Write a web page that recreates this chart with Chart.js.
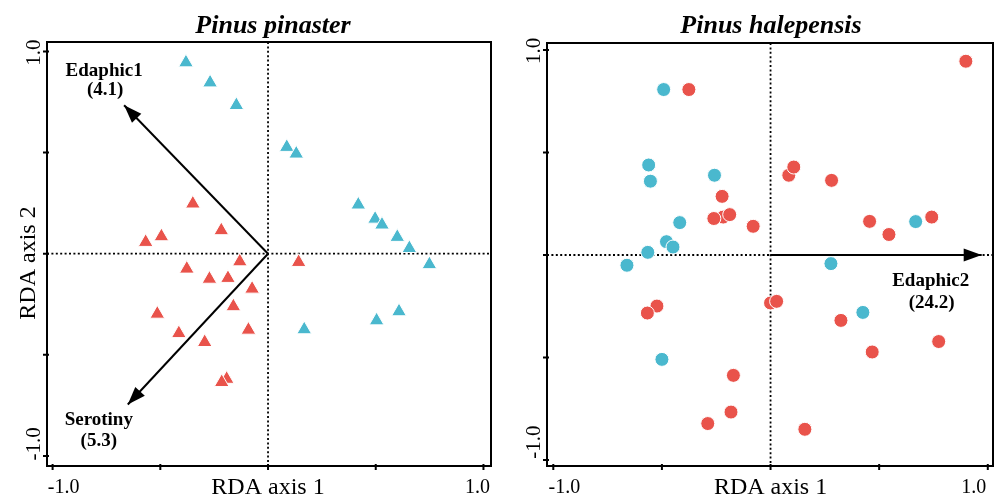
<!DOCTYPE html>
<html>
<head>
<meta charset="utf-8">
<script src="https://cdn.jsdelivr.net/npm/chart.js@4/dist/chart.umd.min.js"></script>
<style>
    html, body { margin: 0; padding: 0; background: #fff; overflow: hidden; }
    #wrap { position: relative; width: 994px; height: 496px; overflow: hidden; }
    .panel { position: absolute; top: 0; width: 497px; height: 496px; }
    canvas { display: block; }
</style>
</head>
<body>
<div id="wrap">
    <div class="panel" style="left:0"><canvas id="left" width="497" height="496"></canvas></div>
    <div class="panel" style="left:497px"><canvas id="right" width="497" height="496"></canvas></div>
</div>
<script>
// RDA biplots, site scores

const axisTicks = [-1.0, -0.5, 0, 0.5, 1.0];
const axisTickLabels = ['-1.0', '', '', '', '1.0'];
const xAxisTitle = 'RDA axis 1';
const yAxisTitle = 'RDA axis 2';

// Pinus pinaster (triangles)
const pinasterBlue = [
    [-0.381, 0.945], [-0.269, 0.846], [-0.147, 0.734], [0.087, 0.527], [0.131, 0.494],
    [0.419, 0.242], [0.497, 0.172], [0.529, 0.143], [0.600, 0.082], [0.656, 0.027],
    [0.749, -0.053], [0.608, -0.286], [0.504, -0.331], [0.168, -0.375]
];
const pinasterRed = [
    [-0.349, 0.247], [-0.217, 0.115], [-0.495, 0.085], [-0.568, 0.057], [0.142, -0.042],
    [-0.131, -0.039], [-0.377, -0.075], [-0.272, -0.125], [-0.186, -0.121], [-0.074, -0.174],
    [-0.161, -0.261], [-0.514, -0.298], [-0.414, -0.394], [-0.091, -0.377], [-0.294, -0.438],
    [-0.192, -0.620], [-0.215, -0.636]
];
const pinasterArrows = [
    { name: 'Edaphic1', pct: '(4.1)', x: -0.668, y: 0.734 },
    { name: 'Serotiny', pct: '(5.3)', x: -0.651, y: -0.746 }
];

// Pinus halepensis (circles)
const halepensisBlue = [
    [-0.492, 0.807], [-0.561, 0.439], [-0.553, 0.360], [-0.258, 0.389], [-0.418, 0.158],
    [-0.479, 0.065], [-0.449, 0.039], [0.668, 0.163], [-0.565, 0.013], [-0.661, -0.050],
    [0.278, -0.042], [0.425, -0.280], [-0.500, -0.509]
];
const halepensisRed = [
    [-0.376, 0.807], [0.899, 0.945], [0.084, 0.389], [0.107, 0.429], [0.281, 0.364],
    [-0.223, 0.286], [-0.218, 0.185], [-0.261, 0.178], [-0.188, 0.197], [-0.080, 0.140],
    [0.456, 0.164], [0.545, 0.100], [0.742, 0.185], [-0.523, -0.249], [-0.567, -0.283],
    [0.000, -0.234], [0.028, -0.226], [0.324, -0.319], [0.468, -0.473], [0.774, -0.422],
    [-0.171, -0.587], [-0.182, -0.766], [-0.289, -0.822], [0.158, -0.850]
];
const halepensisArrows = [
    { name: 'Edaphic2', pct: '(24.2)', x: 0.972, y: 0 }
];

const RED = '#E9534B';
const BLUE = '#4AB8CE';
const SERIF = '"Liberation Serif", "Times New Roman", serif';

// where the two text lines of each arrow label sit relative to the arrow tip
const arrowLabelOffsets = {
    Edaphic1: [[-20, -34], [-19, -15]],
    Serotiny: [[-29, 16], [-29, 37]],
    Edaphic2: [[-51, 26], [-50, 48]]
};

function toPoints(pairs) {
    return pairs.map(p => ({ x: p[0], y: p[1] }));
}

function rdaDecor(cfg) {
    return {
        id: 'rdaDecor',
        beforeDatasetsDraw(chart) {
            const { ctx, chartArea: a, scales: { x, y } } = chart;
            const x0 = x.getPixelForValue(0);
            const y0 = y.getPixelForValue(0);
            ctx.save();
            ctx.strokeStyle = '#000';
            ctx.lineWidth = 1.8;
            ctx.setLineDash([2, 2.4]);
            ctx.beginPath();
            ctx.moveTo(a.left, y0);
            ctx.lineTo(a.right, y0);
            ctx.moveTo(x0, a.top);
            ctx.lineTo(x0, a.bottom);
            ctx.stroke();
            ctx.restore();
        },
        afterDraw(chart) {
            const { ctx, chartArea: a, scales: { x, y } } = chart;
            ctx.save();

            // arrow heads and labels
            cfg.arrows.forEach(arrow => {
                const tx = x.getPixelForValue(arrow.x);
                const ty = y.getPixelForValue(arrow.y);
                const ang = Math.atan2(ty - y.getPixelForValue(0), tx - x.getPixelForValue(0));
                const len = 18, half = 6.5;
                ctx.fillStyle = '#000';
                ctx.beginPath();
                ctx.moveTo(tx, ty);
                ctx.lineTo(tx - len * Math.cos(ang) + half * Math.sin(ang), ty - len * Math.sin(ang) - half * Math.cos(ang));
                ctx.lineTo(tx - len * Math.cos(ang) - half * Math.sin(ang), ty - len * Math.sin(ang) + half * Math.cos(ang));
                ctx.closePath();
                ctx.fill();

                const off = arrowLabelOffsets[arrow.name];
                ctx.font = 'bold 19px ' + SERIF;
                ctx.textAlign = 'center';
                ctx.textBaseline = 'middle';
                ctx.fillText(arrow.name, tx + off[0][0], ty + off[0][1]);
                ctx.fillText(arrow.pct, tx + off[1][0], ty + off[1][1]);
            });

            // box
            ctx.strokeStyle = '#000';
            ctx.lineWidth = 2;
            ctx.setLineDash([]);
            ctx.strokeRect(a.left, a.top, a.right - a.left, a.bottom - a.top);

            // ticks
            ctx.beginPath();
            axisTicks.forEach(v => {
                const px = x.getPixelForValue(v);
                ctx.moveTo(px, a.bottom - 2);
                ctx.lineTo(px, a.bottom + 4);
                const py = y.getPixelForValue(v);
                ctx.moveTo(a.left - 4, py);
                ctx.lineTo(a.left + 2, py);
            });
            ctx.stroke();

            // x tick labels
            ctx.fillStyle = '#000';
            ctx.font = '20px ' + SERIF;
            ctx.textAlign = 'center';
            ctx.textBaseline = 'alphabetic';
            axisTicks.forEach((v, i) => {
                if (!axisTickLabels[i]) return;
                const dx = v < 0 ? 11 : cfg.maxLabelDx;
                ctx.fillText(axisTickLabels[i], x.getPixelForValue(v) + dx, 493);
            });

            // y tick labels, rotated
            axisTicks.forEach((v, i) => {
                if (!axisTickLabels[i]) return;
                const dy = v < 0 ? cfg.minLabelDy : 1;
                ctx.save();
                ctx.translate(a.left - 7, y.getPixelForValue(v) + dy);
                ctx.rotate(-Math.PI / 2);
                ctx.font = '21px ' + SERIF;
                ctx.fillText(axisTickLabels[i], 0, 0);
                ctx.restore();
            });

            // axis titles
            ctx.font = '24px ' + SERIF;
            ctx.fillText(xAxisTitle, x.getPixelForValue(0), 494);
            if (cfg.showYTitle) {
                ctx.save();
                ctx.translate(35, 263);
                ctx.rotate(-Math.PI / 2);
                ctx.fillText(yAxisTitle, 0, 0);
                ctx.restore();
            }

            // panel title
            ctx.font = 'italic bold 26px ' + SERIF;
            ctx.fillText(cfg.title, (a.left + a.right) / 2 + cfg.titleDx, 33);

            ctx.restore();
        }
    };
}

function makePanel(cfg) {
    const ctx = document.getElementById(cfg.canvas).getContext('2d');
    const arrowSets = cfg.arrows.map(arrow => ({
        type: 'line',
        data: [{ x: 0, y: 0 }, { x: arrow.x, y: arrow.y }],
        borderColor: '#000',
        borderWidth: 2,
        pointRadius: 0,
        fill: false,
        showLine: true
    }));
    const markerStyle = {
        pointStyle: cfg.marker,
        pointRadius: cfg.marker === 'triangle' ? 8.5 : 7,
        pointBorderColor: '#fff',
        pointBorderWidth: 1
    };

    return new Chart(ctx, {
        type: 'scatter',
        data: {
            datasets: [
                ...arrowSets,
                Object.assign({ data: toPoints(cfg.red), pointBackgroundColor: RED }, markerStyle),
                Object.assign({ data: toPoints(cfg.blue), pointBackgroundColor: BLUE }, markerStyle)
            ]
        },
        options: {
            responsive: false,
            animation: false,
            events: [],
            layout: { autoPadding: false, padding: cfg.padding },
            plugins: {
                legend: { display: false },
                title: { display: false },
                tooltip: { enabled: false }
            },
            scales: {
                x: { type: 'linear', display: false, min: cfg.xRange[0], max: cfg.xRange[1] },
                y: { type: 'linear', display: false, min: cfg.yRange[0], max: cfg.yRange[1] }
            }
        },
        plugins: [rdaDecor(cfg)]
    });
}

makePanel({
    canvas: 'left',
    title: 'Pinus pinaster',
    marker: 'triangle',
    red: pinasterRed,
    blue: pinasterBlue,
    arrows: pinasterArrows,
    xRange: [-1.026, 1.035],
    yRange: [-1.05, 1.047],
    padding: { left: 47, top: 42, right: 6, bottom: 30 },
    showYTitle: true,
    maxLabelDx: -6,
    minLabelDy: -12,
    titleDx: 4
});

makePanel({
    canvas: 'right',
    title: 'Pinus halepensis',
    marker: 'circle',
    red: halepensisRed,
    blue: halepensisBlue,
    arrows: halepensisArrows,
    xRange: [-1.029, 1.024],
    yRange: [-1.029, 1.034],
    padding: { left: 50, top: 43, right: 1, bottom: 30 },
    showYTitle: false,
    maxLabelDx: -14,
    minLabelDy: -18,
    titleDx: 1
});
</script>
</body>
</html>
